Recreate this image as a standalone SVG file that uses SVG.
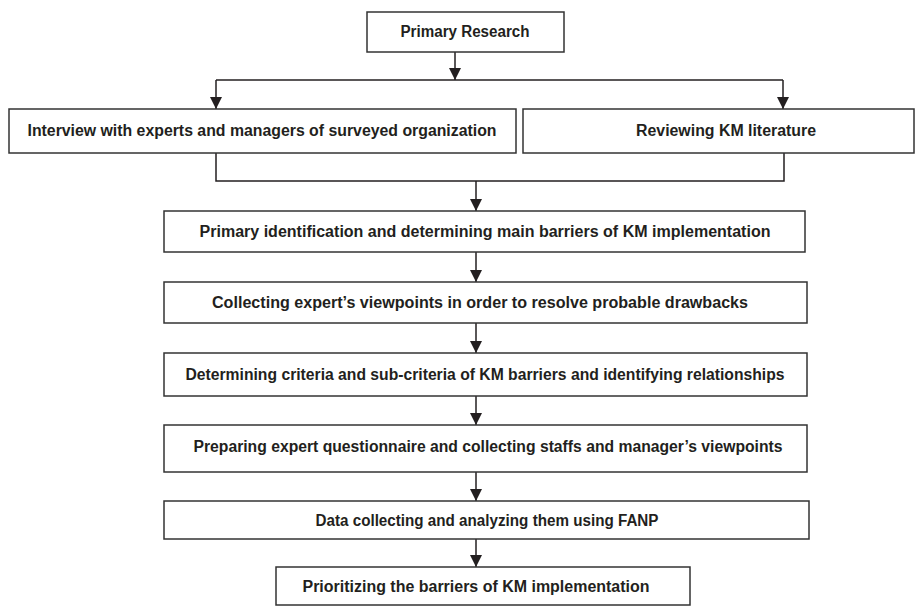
<svg xmlns="http://www.w3.org/2000/svg" width="920" height="607" viewBox="0 0 920 607">
<defs>
<style>
.box{fill:#fff;stroke:#333;stroke-width:1.5}
.t{font-family:"Liberation Sans",Arial,sans-serif;font-weight:bold;font-size:16px;fill:#231f20;text-anchor:middle}
.c{fill:none;stroke:#231f20;stroke-width:1.5}
</style>
<marker id="ah" viewBox="0 0 12 12" refX="12" refY="6" markerWidth="12" markerHeight="12" markerUnits="userSpaceOnUse" orient="auto">
<path d="M0,0 L12,6 L0,12 Z" fill="#231f20"/>
</marker>
</defs>
<rect width="920" height="607" fill="#fff"/>
<g id="connectors">
<line class="c" x1="455" y1="52" x2="455" y2="80" marker-end="url(#ah)"/>
<line class="c" x1="216" y1="80" x2="783" y2="80"/>
<line class="c" x1="216" y1="80" x2="216" y2="109" marker-end="url(#ah)"/>
<line class="c" x1="783" y1="80" x2="783" y2="109" marker-end="url(#ah)"/>
<polyline class="c" points="216,153 216,181 784,181 784,153"/>
<line class="c" x1="476" y1="181" x2="476" y2="211" marker-end="url(#ah)"/>
<line class="c" x1="476" y1="252" x2="476" y2="282" marker-end="url(#ah)"/>
<line class="c" x1="476" y1="323" x2="476" y2="353" marker-end="url(#ah)"/>
<line class="c" x1="476" y1="396" x2="476" y2="425" marker-end="url(#ah)"/>
<line class="c" x1="476" y1="472" x2="476" y2="501" marker-end="url(#ah)"/>
<line class="c" x1="476" y1="539" x2="476" y2="567" marker-end="url(#ah)"/>
</g>
<g id="n1"><rect class="box" x="367" y="12" width="197" height="40"/><text class="t" x="465" y="37" textLength="129" lengthAdjust="spacingAndGlyphs">Primary Research</text></g>
<g id="n2"><rect class="box" x="9" y="109" width="507" height="44"/><text class="t" x="262" y="136" textLength="469" lengthAdjust="spacingAndGlyphs">Interview with experts and managers of surveyed organization</text></g>
<g id="n3"><rect class="box" x="523" y="109" width="391" height="44"/><text class="t" x="726" y="136" textLength="180" lengthAdjust="spacingAndGlyphs">Reviewing KM literature</text></g>
<g id="n4"><rect class="box" x="164" y="211" width="641" height="41"/><text class="t" x="485" y="237" textLength="571" lengthAdjust="spacingAndGlyphs">Primary identification and determining main barriers of KM implementation</text></g>
<g id="n5"><rect class="box" x="164" y="282" width="643" height="41"/><text class="t" x="480" y="308" textLength="536" lengthAdjust="spacingAndGlyphs">Collecting expert’s viewpoints in order to resolve probable drawbacks</text></g>
<g id="n6"><rect class="box" x="164" y="353" width="643" height="43"/><text class="t" x="485" y="380" textLength="599" lengthAdjust="spacingAndGlyphs">Determining criteria and sub-criteria of KM barriers and identifying relationships</text></g>
<g id="n7"><rect class="box" x="164" y="425" width="643" height="47"/><text class="t" x="488" y="452" textLength="589" lengthAdjust="spacingAndGlyphs">Preparing expert questionnaire and collecting staffs and manager’s viewpoints</text></g>
<g id="n8"><rect class="box" x="164" y="501" width="645" height="38"/><text class="t" x="487" y="526" textLength="343" lengthAdjust="spacingAndGlyphs">Data collecting and analyzing them using FANP</text></g>
<g id="n9"><rect class="box" x="276" y="567" width="414" height="38"/><text class="t" x="476" y="592" textLength="347" lengthAdjust="spacingAndGlyphs">Prioritizing the barriers of KM implementation</text></g>
</svg>
